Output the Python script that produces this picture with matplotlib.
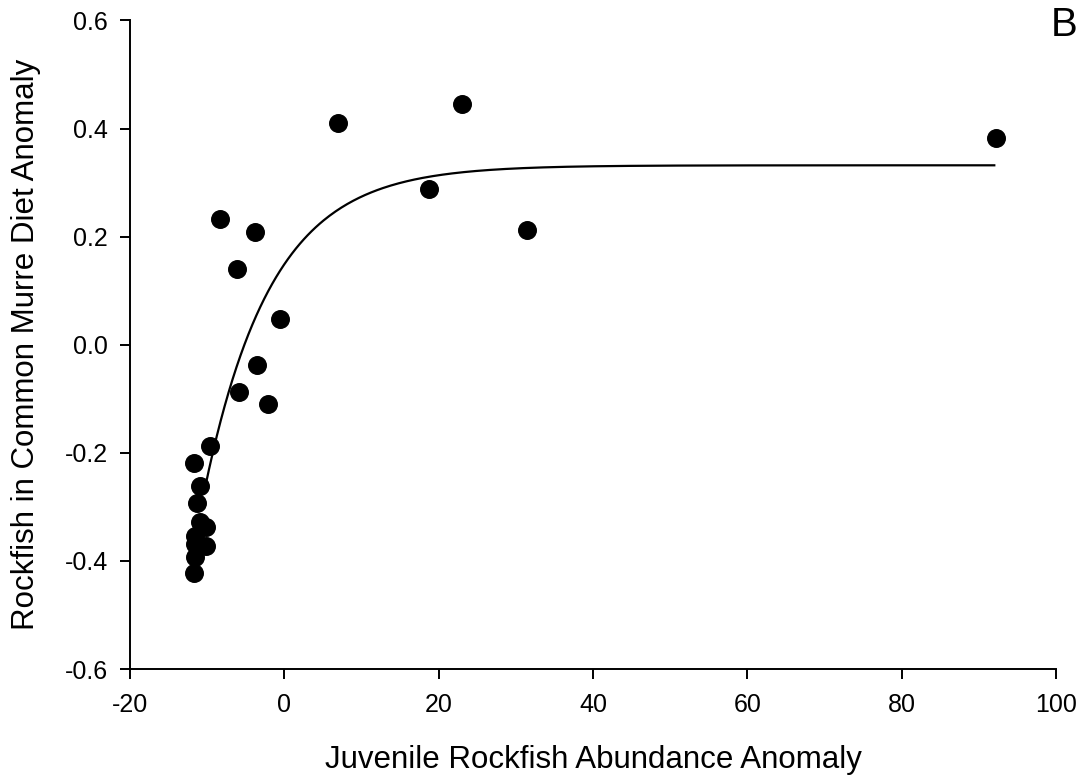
import numpy as np
import matplotlib
matplotlib.use("Agg")
import matplotlib.pyplot as plt

plt.rcParams["font.family"] = ["Liberation Sans", "DejaVu Sans"]
plt.rcParams["axes.unicode_minus"] = False

# rockfish abundance anomaly vs. murre diet anomaly
abundance = [92.2, 23.0, 6.9, 18.8, 31.4, -8.3, -3.8, -6.1, -0.6, -3.6,
             -5.9, -2.1, -9.6, -11.7, -10.9, -11.3, -10.9, -10.1, -11.6,
             -10.1, -11.6, -11.6, -11.7]
diet = [0.383, 0.445, 0.410, 0.288, 0.213, 0.233, 0.209, 0.140, 0.048, -0.037,
        -0.087, -0.109, -0.187, -0.218, -0.262, -0.292, -0.328, -0.338, -0.353,
        -0.372, -0.368, -0.393, -0.423]

# exponential rise to max fit: y = y_max - a * exp(-b * x)
FIT_YMAX = 0.332
FIT_A = 0.183
FIT_B = 0.115
FIT_XMIN, FIT_XMAX = -10.3, 92.0

fig = plt.figure(figsize=(10.8, 7.78), dpi=100)
ax = fig.add_axes([0.1204, 0.1401, 0.8574, 0.8336])

xf = np.linspace(FIT_XMIN, FIT_XMAX, 400)
ax.plot(xf, FIT_YMAX - FIT_A * np.exp(-FIT_B * xf), color="black", lw=1.6)
ax.scatter(abundance, diet, s=160, color="black", zorder=3)

ax.set_xlim(-20, 100)
ax.set_ylim(-0.6, 0.6)
ax.set_xticks(np.arange(-20, 101, 20))
yt = np.round(np.arange(-0.6, 0.61, 0.2), 1)
ax.set_yticks(yt)
ax.set_yticklabels([f"{v:.1f}" for v in yt])
ax.spines["top"].set_visible(False)
ax.spines["right"].set_visible(False)
for s in ("left", "bottom"):
    ax.spines[s].set_linewidth(1.4)
ax.tick_params(direction="out", length=7.5, width=1.4, labelsize=18)
ax.tick_params(axis="x", pad=9.5)
ax.tick_params(axis="y", pad=8.5)

ax.set_xlabel("Juvenile Rockfish Abundance Anomaly", fontsize=22.5)
ax.xaxis.set_label_coords(0.5, -0.140)
ax.xaxis.label.set_va("center")
ax.set_ylabel("Rockfish in Common Murre Diet Anomaly", fontsize=22.5)
ax.yaxis.set_label_coords(-0.112, 0.5)
ax.yaxis.label.set_va("center")
fig.text(1077 / 1080, 1 - 24.5 / 778, "B", fontsize=29, ha="right", va="center")

fig.savefig("out.png", dpi=100)
